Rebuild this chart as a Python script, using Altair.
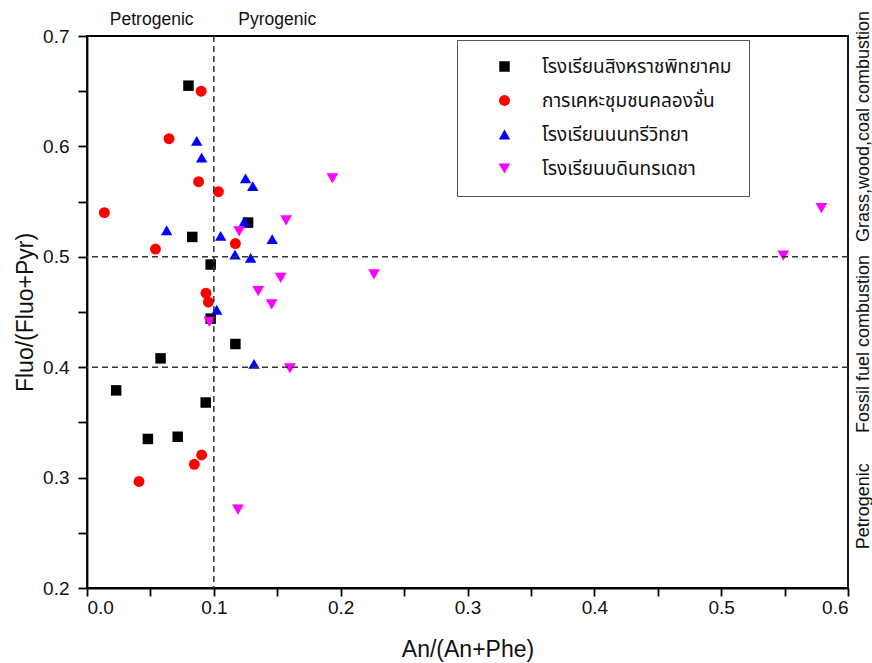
import altair as alt
import pandas as pd

series_names = ["โรงเรียนสิงหราชพิทยาคม", "การเคหะชุมชนคลองจั่น", "โรงเรียนนนทรีวิทยา", "โรงเรียนบดินทรเดชา"]
series_colors = ["#000000", "#ff0000", "#0000ff", "#ff00ff"]
series_shapes = ["square", "circle", "triangle-up", "triangle-down"]
series_sizes = [110, 140, 200, 200]

black_x = [0.080, 0.083, 0.0975, 0.127, 0.0975, 0.117, 0.058, 0.023, 0.0936, 0.048, 0.0715]
black_y = [0.655, 0.518, 0.493, 0.531, 0.444, 0.421, 0.408, 0.379, 0.368, 0.335, 0.337]

red_x = [0.090, 0.0647, 0.088, 0.1036, 0.0137, 0.054, 0.117, 0.0938, 0.0957, 0.0904, 0.0846, 0.041]
red_y = [0.650, 0.607, 0.568, 0.559, 0.540, 0.507, 0.512, 0.467, 0.459, 0.3205, 0.312, 0.2965]

blue_x = [0.0865, 0.0904, 0.125, 0.1307, 0.0628, 0.124, 0.1054, 0.146, 0.1167, 0.129, 0.1023, 0.1317]
blue_y = [0.605, 0.590, 0.571, 0.564, 0.524, 0.532, 0.519, 0.516, 0.502, 0.499, 0.452, 0.403]

magenta_x = [0.1935, 0.157, 0.120, 0.1527, 0.2263, 0.135, 0.1456, 0.0965, 0.160, 0.119, 0.549, 0.579]
magenta_y = [0.571, 0.533, 0.523, 0.481, 0.484, 0.469, 0.457, 0.441, 0.399, 0.271, 0.501, 0.544]

x_ticks = [0.0, 0.05, 0.1, 0.15, 0.2, 0.25, 0.3, 0.35, 0.4, 0.45, 0.5, 0.55, 0.6]
y_ticks = [0.2, 0.25, 0.3, 0.35, 0.4, 0.45, 0.5, 0.55, 0.6, 0.65, 0.7]

vline_x = [0.1]
hline_y = [0.4, 0.5]

top_labels = ["Petrogenic", "Pyrogenic"]
top_label_x = [0.051, 0.15]
top_label_y = [0.7145, 0.7145]

side_labels = ["Grass,wood,coal combustion", "Fossil fuel combustion", "Petrogenic"]
side_label_x = [0.6126, 0.6126, 0.6126]
side_label_y = [0.618, 0.421, 0.274]

rows = []
for name, xs, ys in zip(series_names, [black_x, red_x, blue_x, magenta_x],
                        [black_y, red_y, blue_y, magenta_y]):
    for a, b in zip(xs, ys):
        rows.append({"series": name, "x": a, "y": b})
df = pd.DataFrame(rows)

FONT = "Liberation Sans"
major_test = "abs(datum.value*10 - round(datum.value*10)) < 0.001"

x_enc = alt.X(
    "x:Q",
    title="An/(An+Phe)",
    scale=alt.Scale(domain=[0, 0.6], nice=False, zero=False),
    axis=alt.Axis(
        values=x_ticks,
        format=".1f",
        labelExpr=f"{major_test} ? datum.label : ''",
        ticks=True,
        tickSize=8,
        tickColor="#000000",
        tickWidth=1.8,
        grid=False,
        labelPadding=2,
        titlePadding=21,
    ),
)
y_enc = alt.Y(
    "y:Q",
    title="Fluo/(Fluo+Pyr)",
    scale=alt.Scale(domain=[0.2, 0.7], nice=False, zero=False),
    axis=alt.Axis(
        values=y_ticks,
        format=".1f",
        labelExpr=f"{major_test} ? datum.label : ''",
        ticks=True,
        tickSize=9,
        tickColor="#000000",
        tickWidth=1.8,
        grid=False,
        labelPadding=9,
        titlePadding=5,
    ),
)

legend_spec = alt.Legend(title=None)
points = alt.Chart(df).mark_point(filled=True, opacity=1, strokeWidth=0).encode(
    x=x_enc,
    y=y_enc,
    color=alt.Color("series:N", scale=alt.Scale(domain=series_names, range=series_colors),
                    legend=legend_spec),
    shape=alt.Shape("series:N", scale=alt.Scale(domain=series_names, range=series_shapes),
                    legend=legend_spec),
    size=alt.Size("series:N", scale=alt.Scale(domain=series_names, range=series_sizes),
                  legend=legend_spec),
)

vline = alt.Chart(pd.DataFrame({"x": vline_x})).mark_rule(
    color="#333333", strokeDash=[6, 4], strokeWidth=1.5
).encode(x=x_enc)

hline = alt.Chart(pd.DataFrame({"y": hline_y})).mark_rule(
    color="#333333", strokeDash=[6, 4], strokeWidth=1.5
).encode(y=y_enc)

top_text = alt.Chart(pd.DataFrame({"x": top_label_x, "y": top_label_y, "t": top_labels})).mark_text(
    font=FONT, fontSize=17.5, color="#111111", align="center", baseline="middle"
).encode(x=x_enc, y=y_enc, text="t:N")

side_text = alt.Chart(pd.DataFrame({"x": side_label_x, "y": side_label_y, "t": side_labels})).mark_text(
    font=FONT, fontSize=18, color="#111111", align="center", baseline="middle", angle=270
).encode(x=x_enc, y=y_enc, text="t:N")

chart = alt.layer(points, vline, hline, top_text, side_text).properties(
    width=761,
    height=552,
    autosize=alt.AutoSizeParams(type="none"),
    padding={"left": 87, "top": 36, "right": 24, "bottom": 75},
).configure_view(
    stroke="#000000", strokeWidth=1.8
).configure_axis(
    domainColor="#000000", domainWidth=1.8,
    labelFont=FONT, labelFontSize=19, labelColor="#111111",
    titleFont=FONT, titleFontSize=23, titleFontWeight="normal", titleColor="#111111",
).configure_legend(
    orient="none", legendX=370, legendY=4,
    strokeColor="#555555", strokeWidth=1, fillColor="#ffffff",
    padding=17, symbolOffset=21, labelOffset=28, rowPadding=14,
    labelFont="Noto Sans Thai, Noto Sans, Loma, Garuda, sans-serif", labelFontSize=19, labelColor="#111111",
    symbolStrokeWidth=0, labelLimit=400,
)

chart.save("out.html", embed_options={"renderer": "svg", "actions": False})
